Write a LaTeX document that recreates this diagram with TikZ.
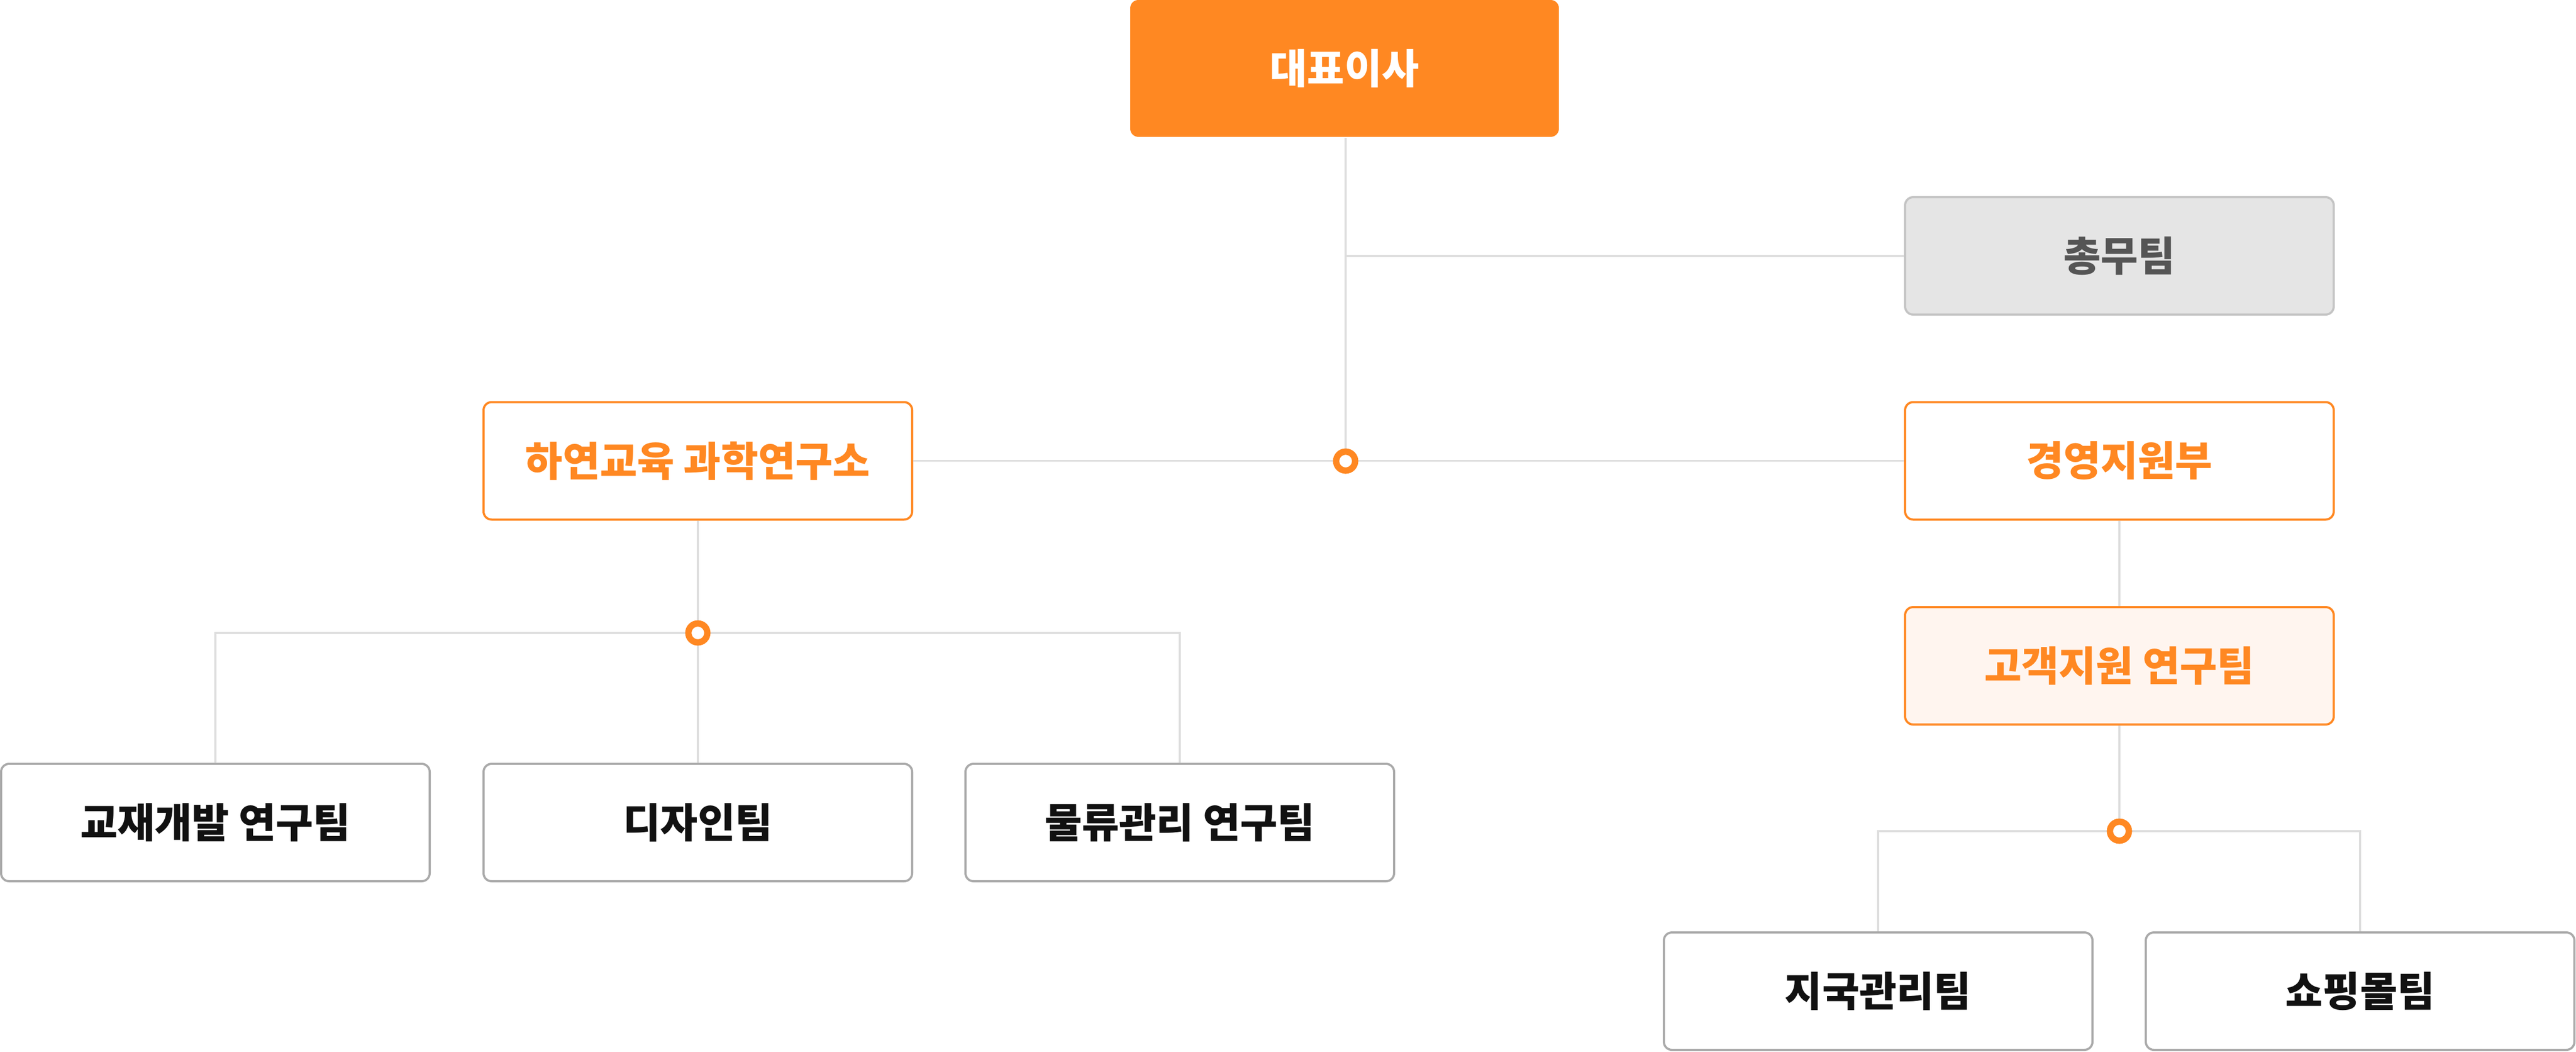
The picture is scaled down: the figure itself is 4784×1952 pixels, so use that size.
\documentclass[tikz,border=0pt]{standalone}
\usepackage{fontspec}
\newfontfamily\krfont[FakeStretch=0.99]{Noto Sans CJK KR}
\definecolor{orgc}{HTML}{FF8822}
\definecolor{linec}{HTML}{DDDDDD}
\definecolor{grayfill}{HTML}{E5E5E5}
\definecolor{grayborder}{HTML}{C4C4C4}
\definecolor{boxborder}{HTML}{AAAAAA}
\definecolor{lightorg}{HTML}{FFF5EF}
\definecolor{darktext}{HTML}{111111}
\definecolor{graytext}{HTML}{555555}
\tikzset{
  box/.style={rectangle, rounded corners=3.75pt, minimum width=199pt, minimum height=54.5pt,
              line width=1pt, inner sep=0pt, font=\krfont\bfseries\fontsize{19pt}{22pt}\selectfont},
  ceobox/.style={box, fill=orgc, draw=none, text=white, minimum height=63.5pt},
  graybox/.style={box, fill=grayfill, draw=grayborder, text=graytext},
  orgbox/.style={box, fill=white, draw=orgc, text=orgc},
  lightbox/.style={box, fill=lightorg, draw=orgc, text=orgc},
  teambox/.style={box, fill=white, draw=boxborder, text=darktext},
  conn/.style={draw=linec, line width=0.95pt},
  junction/.style={circle, draw=orgc, fill=white, line width=2.95pt, minimum size=8.8pt, inner sep=0pt}
}
\begin{document}
\begin{tikzpicture}[x=0.25pt, y=-0.25pt]
\useasboundingbox (0,0) rectangle (4784,1952);
% nodes
\node[ceobox]   (ceo)    at (2497,127)  {대표이사};
\node[graybox]  (chong)  at (3936,475)  {총무팀};
\node[orgbox]   (hayeon) at (1296,855.5) {하연교육 과학연구소};
\node[orgbox]   (gyeong) at (3936,855.5) {경영지원부};
\node[lightbox] (gogaek) at (3936,1236) {고객지원 연구팀};
\node[teambox]  (t1)     at (400,1527)  {교재개발 연구팀};
\node[teambox]  (t2)     at (1296,1527) {디자인팀};
\node[teambox]  (t3)     at (2191,1527) {물류관리 연구팀};
\node[teambox]  (r1)     at (3488,1840) {지국관리팀};
\node[teambox]  (r2)     at (4383,1840) {쇼핑몰팀};
% junction points
\coordinate (j1) at (2499,856);
\coordinate (j2) at (1296,1175);
\coordinate (j3) at (3936,1543);
% connectors
\draw[conn] (ceo.south -| j1) -- (j1);
\draw[conn] (chong.west -| j1) -- (chong.west);
\draw[conn] (hayeon.east) -- (gyeong.west);
\draw[conn] (hayeon.south) -- (j2);
\draw[conn] (t1.north) |- (j2) -| (t3.north);
\draw[conn] (j2) -- (t2.north);
\draw[conn] (gyeong.south) -- (gogaek.north);
\draw[conn] (gogaek.south) -- (j3);
\draw[conn] (r1.north) |- (j3) -| (r2.north);
% junction circles
\node[junction] (c1) at (j1) {};
\node[junction] (c2) at (j2) {};
\node[junction] (c3) at (j3) {};
\end{tikzpicture}
\end{document}
